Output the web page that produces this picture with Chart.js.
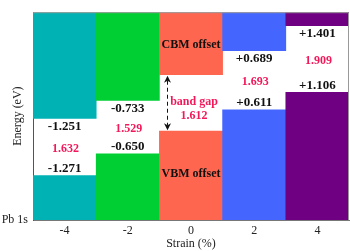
<!DOCTYPE html>
<html>
<head>
<meta charset="utf-8">
<script src="https://cdn.jsdelivr.net/npm/chart.js@4.4.0/dist/chart.umd.min.js"></script>
<style>
  html, body { margin: 0; padding: 0; background: #fff; }
  canvas { display: block; }
</style>
</head>
<body>
<canvas id="chart" width="350" height="251"></canvas>
<script>
// Band alignment vs strain (energies relative to unstrained VBM)
const strains = ['-4', '-2', '0', '2', '4'];
const cbmOffset = [-1.251, -0.733, 0, 0.689, 1.401];
const vbmOffset = [-1.271, -0.650, 0, 0.611, 1.106];
const bandGap = [1.632, 1.529, 1.612, 1.693, 1.909];
const cbmLabels = ['-1.251', '-0.733', '', '+0.689', '+1.401'];
const vbmLabels = ['-1.271', '-0.650', '', '+0.611', '+1.106'];
const gapLabels = ['1.632', '1.529', '', '1.693', '1.909'];
const coreLevelLabel = 'Pb 1s';

const barColors = ['#00B2B4', '#00CF33', '#FF6650', '#4466FF', '#700082'];
const pink = '#F2185A';
const serif = "'Liberation Serif', 'DejaVu Serif', serif";

const yMin = -2.54;   // Pb 1s reference level
const yMax = 3.40;
const refCbm = bandGap[2];

const cbmEnergy = cbmOffset.map(v => refCbm + v);
const vbmEnergy = vbmOffset.slice();

// Draws the frame and all the value labels from the scales
const labelPlugin = {
    id: 'bandLabels',
    afterDatasetsDraw(chart) {
        const ctx = chart.ctx;
        const xs = chart.scales.x;
        const ys = chart.scales.y;
        const area = chart.chartArea;

        ctx.save();
        ctx.strokeStyle = '#999';
        ctx.lineWidth = 1;
        ctx.beginPath();
        ctx.moveTo(area.left, area.top + 0.5);
        ctx.lineTo(area.right - 0.5, area.top + 0.5);
        ctx.lineTo(area.right - 0.5, area.bottom);
        ctx.stroke();

        ctx.textAlign = 'center';
        ctx.textBaseline = 'middle';

        strains.forEach((s, i) => {
            const x = xs.getPixelForValue(i);
            const yc = ys.getPixelForValue(cbmEnergy[i]);
            const yv = ys.getPixelForValue(vbmEnergy[i]);
            const mid = (yc + yv) / 2;

            if (cbmLabels[i]) {
                ctx.font = 'bold 13px ' + serif;
                ctx.fillStyle = '#111';
                ctx.fillText(cbmLabels[i], x, yc + 8);
                ctx.fillText(vbmLabels[i], x, yv - 7);
                ctx.font = 'bold 12px ' + serif;
                ctx.fillStyle = pink;
                ctx.fillText(gapLabels[i], x + 1, mid + 2);
            } else {
                // reference column: offsets titles, band gap and arrow
                ctx.font = 'bold 12px ' + serif;
                ctx.fillStyle = '#111';
                ctx.fillText('CBM offset', x, (area.top + yc) / 2 + 1);
                ctx.fillText('VBM offset', x, (yv + area.bottom) / 2 - 2);
                ctx.fillStyle = pink;
                ctx.fillText('band gap', x + 3, mid - 1);
                ctx.fillText(bandGap[i].toFixed(3), x + 3, mid + 13);

                const ax = Math.round(x - 24.5) + 0.5;
                const top = yc + 1;
                const bot = yv - 1;
                ctx.strokeStyle = '#111';
                ctx.fillStyle = '#111';
                ctx.lineWidth = 1;
                ctx.setLineDash([4, 3]);
                ctx.beginPath();
                ctx.moveTo(ax, top + 5);
                ctx.lineTo(ax, bot - 5);
                ctx.stroke();
                ctx.setLineDash([]);
                ctx.beginPath();
                ctx.moveTo(ax, top);
                ctx.lineTo(ax - 3.5, top + 7);
                ctx.lineTo(ax, top + 5);
                ctx.lineTo(ax + 3.5, top + 7);
                ctx.closePath();
                ctx.fill();
                ctx.beginPath();
                ctx.moveTo(ax, bot);
                ctx.lineTo(ax - 3.5, bot - 7);
                ctx.lineTo(ax, bot - 5);
                ctx.lineTo(ax + 3.5, bot - 7);
                ctx.closePath();
                ctx.fill();
            }
        });
        ctx.restore();
    }
};

new Chart(document.getElementById('chart').getContext('2d'), {
    type: 'bar',
    data: {
        labels: strains,
        datasets: [
            {
                label: 'CBM',
                data: cbmEnergy.map(v => [v, yMax]),
                backgroundColor: barColors,
                borderWidth: 0,
                grouped: false,
                barPercentage: 1,
                categoryPercentage: 1
            },
            {
                label: 'VBM',
                data: vbmEnergy.map(v => [yMin, v]),
                backgroundColor: barColors,
                borderWidth: 0,
                grouped: false,
                barPercentage: 1,
                categoryPercentage: 1
            }
        ]
    },
    options: {
        responsive: false,
        animation: false,
        devicePixelRatio: 1,
        layout: { padding: { top: 2, right: 1, left: 0, bottom: 0 } },
        plugins: {
            legend: { display: false },
            tooltip: { enabled: false }
        },
        scales: {
            x: {
                grid: { display: false, drawTicks: false },
                border: { display: true, color: '#777' },
                ticks: {
                    padding: 4,
                    color: '#222',
                    font: { family: serif, size: 12 }
                },
                title: {
                    display: true,
                    text: 'Strain (%)',
                    color: '#222',
                    padding: { top: 0, bottom: 0 },
                    font: { family: serif, size: 12 }
                },
                afterFit: scale => { scale.height = 31; }
            },
            y: {
                min: yMin,
                max: yMax,
                grid: { display: false, drawTicks: false },
                border: { display: true, color: '#555' },
                afterBuildTicks: axis => { axis.ticks = [{ value: yMin }]; },
                ticks: {
                    padding: 5,
                    color: '#222',
                    font: { family: serif, size: 12 },
                    callback: () => coreLevelLabel
                },
                title: {
                    display: true,
                    text: 'Energy (eV)',
                    color: '#222',
                    padding: { top: 11, bottom: 0 },
                    font: { family: serif, size: 12 }
                },
                afterFit: scale => { scale.width = 33; }
            }
        }
    },
    plugins: [labelPlugin]
});
</script>
</body>
</html>
